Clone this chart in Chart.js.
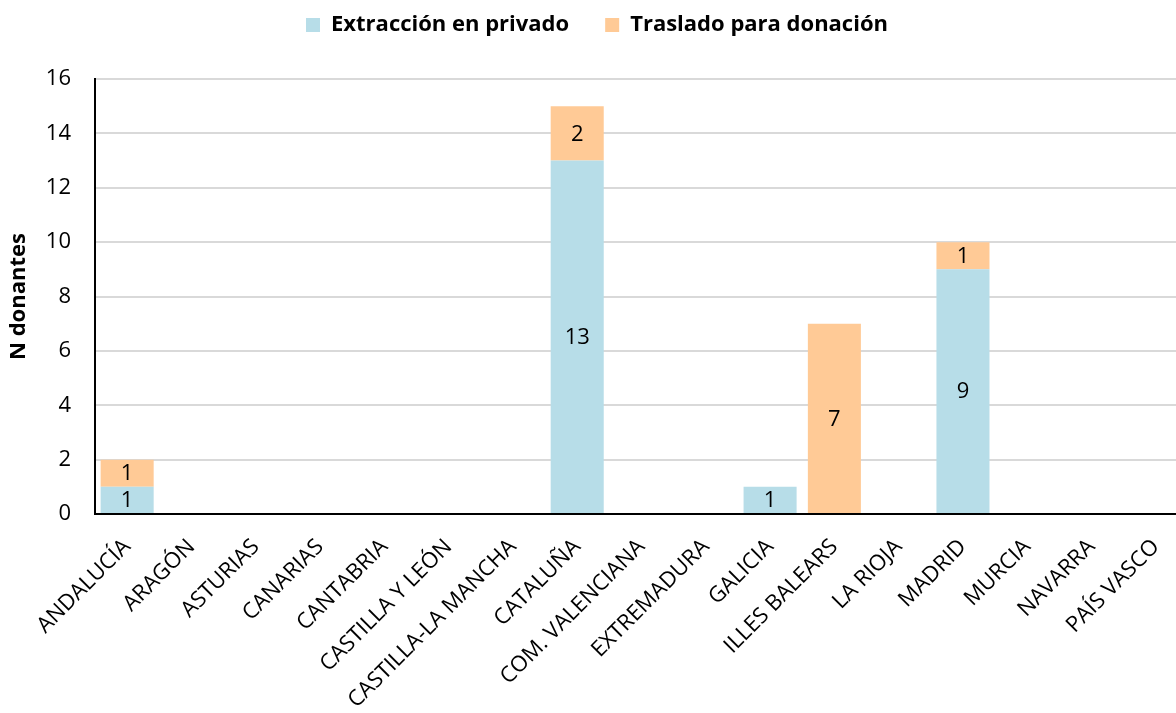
<!DOCTYPE html>
<html>
<head>
<meta charset="utf-8">
<script src="https://cdn.jsdelivr.net/npm/chart.js@4/dist/chart.umd.min.js"></script>
<style>
    html, body { margin: 0; padding: 0; background: #ffffff; overflow: hidden; }
    #wrap { width: 1176px; height: 713px; position: relative; overflow: hidden; }
</style>
</head>
<body>
<!-- canvas is a bit wider than the window: the plot runs past the right edge, as in the original -->
<div id="wrap"><canvas id="myChart" width="1188" height="713"></canvas></div>
<script>
// Regions (x axis)
const regions = ["ANDALUCÍA", "ARAGÓN", "ASTURIAS", "CANARIAS", "CANTABRIA", "CASTILLA Y LEÓN",
    "CASTILLA-LA MANCHA", "CATALUÑA", "COM. VALENCIANA", "EXTREMADURA", "GALICIA", "ILLES BALEARS",
    "LA RIOJA", "MADRID", "MURCIA", "NAVARRA", "PAÍS VASCO"];
// Donors per region
const extraccion = [1, 0, 0, 0, 0, 0, 0, 13, 0, 0, 1, 0, 0, 9, 0, 0, 0];
const traslado = [1, 0, 0, 0, 0, 0, 0, 2, 0, 0, 0, 7, 0, 1, 0, 0, 0];

const FONT = "'Open Sans', Lato, sans-serif";

// Draw the value in the middle of every non-zero segment
const segmentLabels = {
    id: "segmentLabels",
    afterDatasetsDraw(chart) {
        const ctx = chart.ctx;
        ctx.save();
        ctx.font = "22px " + FONT;
        ctx.fillStyle = "#000000";
        ctx.textAlign = "center";
        ctx.textBaseline = "middle";
        chart.data.datasets.forEach((ds, i) => {
            const meta = chart.getDatasetMeta(i);
            meta.data.forEach((bar, j) => {
                const v = ds.data[j];
                if (!v) return;
                const mid = (bar.y + bar.base) / 2;
                ctx.fillText(String(v), bar.x, mid + 1);
            });
        });
        ctx.restore();
    }
};

// Legend needs wide gaps between items but sits high above the plot,
// so keep its height fixed after it fits itself
const legendHeight = {
    id: "legendHeight",
    beforeLayout(chart) {
        const legend = chart.legend;
        if (!legend || legend._patched) return;
        const fit = legend.fit;
        legend.fit = function() {
            fit.call(this);
            this.height = 101;
        };
        legend._patched = true;
    }
};

window.onload = function() {
    const ctx = document.getElementById("myChart");
    Chart.defaults.font.family = FONT;
    Chart.defaults.color = "#000000";

    new Chart(ctx, {
        type: "bar",
        data: {
            labels: regions,
            datasets: [
                {
                    label: "Extracción en privado",
                    data: extraccion,
                    backgroundColor: "#B7DDE8",
                    borderWidth: 0,
                    categoryPercentage: 1,
                    barPercentage: 0.825
                },
                {
                    label: "Traslado para donación",
                    data: traslado,
                    backgroundColor: "#FFCA96",
                    borderWidth: 0,
                    categoryPercentage: 1,
                    barPercentage: 0.825
                }
            ]
        },
        options: {
            responsive: false,
            animation: false,
            layout: { padding: { left: 6, right: 0, top: -22, bottom: 0 } },
            plugins: {
                legend: {
                    position: "top",
                    labels: {
                        boxWidth: 14,
                        boxHeight: 14,
                        padding: 36,
                        font: { size: 22, weight: "bold" }
                    }
                },
                tooltip: { enabled: false }
            },
            scales: {
                x: {
                    stacked: true,
                    grid: { display: false, drawTicks: false },
                    border: { color: "#000000", width: 2 },
                    ticks: {
                        autoSkip: false,
                        maxRotation: 45,
                        minRotation: 45,
                        padding: 20,
                        font: { size: 22 }
                    },
                    afterFit(scale) {
                        scale.height = 199;
                        scale.paddingLeft = 0;
                        scale.paddingRight = 0;
                    }
                },
                y: {
                    stacked: true,
                    min: 0,
                    max: 16,
                    ticks: { stepSize: 2, padding: 24, font: { size: 22 } },
                    grid: { color: "#D9D9D9", lineWidth: 2, drawTicks: false },
                    border: { color: "#000000", width: 2 },
                    title: {
                        display: true,
                        text: "N donantes",
                        font: { size: 22, weight: "bold" },
                        padding: 0
                    },
                    afterFit(scale) { scale.width = 89; }
                }
            }
        },
        plugins: [segmentLabels, legendHeight]
    });
};
</script>
</body>
</html>
